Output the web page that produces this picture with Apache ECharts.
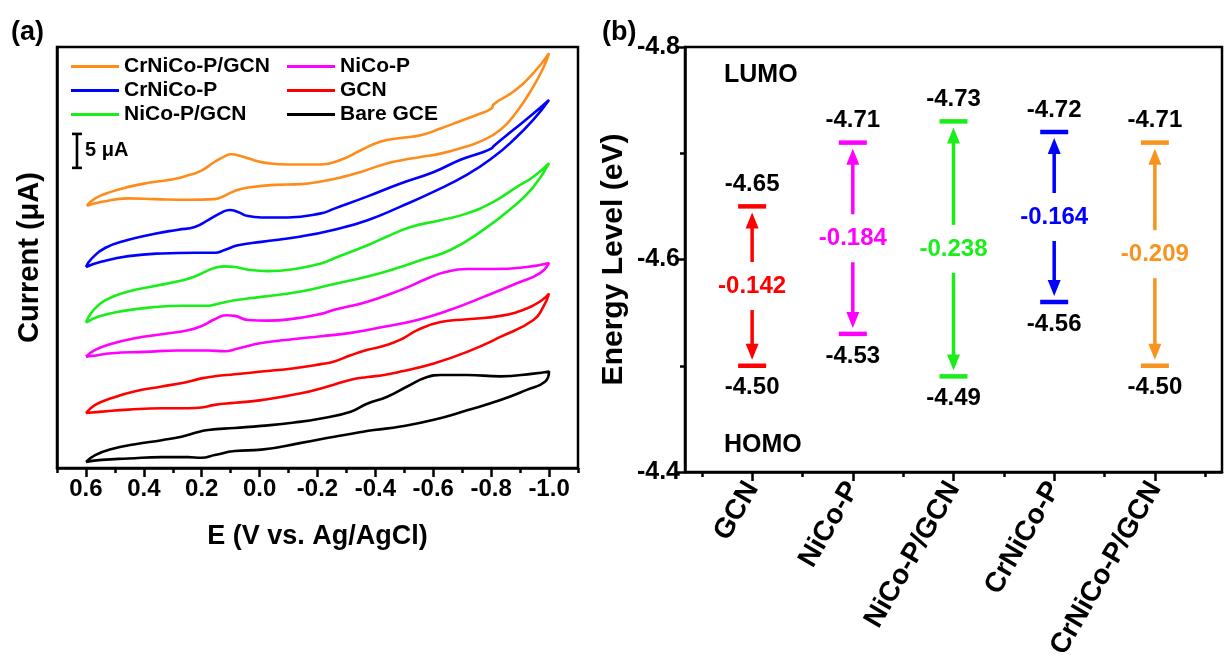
<!DOCTYPE html>
<html>
<head>
<meta charset="utf-8">
<script src="https://cdn.jsdelivr.net/npm/echarts@6/dist/echarts.min.js"></script>
<style>
  html, body { margin: 0; padding: 0; background: #fff; }
  #chart { width: 1225px; height: 669px; }
</style>
</head>
<body>
<div id="chart"></div>
<script>
// ---------- (a) cyclic voltammograms: [E (V vs. Ag/AgCl), I (µA, stacked)] ----------
const cvCrNiCoPGCN = [
  [0.597,38.6],[0.568,39.7],[0.511,40.7],[0.453,41.4],[0.384,42.0],[0.304,42.5],[0.247,43.1],[0.201,43.8],
  [0.155,45.1],[0.121,45.9],[0.098,46.2],[0.063,45.9],[0.017,45.3],[-0.029,44.9],[-0.098,44.7],[-0.212,44.7],
  [-0.281,45.4],[-0.350,46.8],[-0.419,48.1],[-0.487,48.6],[-0.556,49.0],[-0.625,50.0],[-0.694,51.1],[-0.763,52.2],
  [-0.803,53.0],[-0.807,53.5],[-0.876,55.4],[-0.945,58.1],[-1.0,61.1],
  [-0.98,58.9],[-0.946,56.2],[-0.889,52.5],[-0.832,49.8],[-0.763,48.1],[-0.694,47.1],[-0.625,46.3],[-0.556,45.8],
  [-0.487,45.3],[-0.419,44.6],[-0.350,43.6],[-0.281,42.8],[-0.212,42.2],[-0.143,41.8],[-0.051,41.7],[0.040,41.3],
  [0.086,40.8],[0.121,40.1],[0.155,39.6],[0.247,39.5],[0.362,39.6],[0.453,39.7],[0.545,39.2],[0.597,38.6]
];
const cvCrNiCoP = [
  [0.6,29.6],[0.579,30.9],[0.534,32.4],[0.453,33.6],[0.362,34.5],[0.281,35.1],[0.224,35.5],[0.178,36.5],
  [0.132,37.6],[0.103,38.0],[0.075,37.7],[0.040,37.1],[-0.006,36.9],[-0.098,36.9],[-0.212,37.5],[-0.258,38.2],
  [-0.373,40.0],[-0.487,41.9],[-0.602,43.6],[-0.694,45.4],[-0.763,46.4],[-0.803,47.1],[-0.808,47.4],[-0.877,49.8],
  [-0.946,52.2],[-1.0,54.2],
  [-0.946,51.3],[-0.877,48.3],[-0.808,45.8],[-0.717,43.2],[-0.602,40.7],[-0.487,38.5],[-0.373,36.5],[-0.258,35.1],
  [-0.143,34.1],[-0.006,33.3],[0.075,32.8],[0.121,32.1],[0.155,31.7],[0.224,31.7],[0.338,31.6],[0.453,31.2],
  [0.545,30.4],[0.6,29.6]
];
const cvNiCoPGCN = [
  [0.6,21.4],[0.579,23.0],[0.534,24.7],[0.453,26.0],[0.362,26.8],[0.270,27.6],[0.224,28.2],[0.178,29.1],
  [0.143,29.6],[0.121,29.7],[0.086,29.6],[0.040,29.2],[-0.029,29.0],[-0.120,29.3],[-0.212,30.1],[-0.258,30.9],
  [-0.373,32.8],[-0.441,34.1],[-0.522,35.5],[-0.625,36.5],[-0.717,37.5],[-0.808,39.2],[-0.889,41.4],[-0.946,42.9],
  [-1.0,44.9],
  [-0.946,41.4],[-0.877,38.5],[-0.774,35.1],[-0.659,32.1],[-0.556,30.6],[-0.487,29.6],[-0.373,28.2],[-0.258,27.1],
  [-0.143,26.0],[-0.006,25.2],[0.086,24.7],[0.143,24.2],[0.178,23.9],[0.270,23.9],[0.362,23.7],[0.476,23.1],
  [0.556,22.3],[0.6,21.4]
];
const cvNiCoP = [
  [0.6,16.4],[0.568,17.4],[0.511,18.3],[0.430,19.1],[0.338,19.7],[0.247,20.3],[0.201,20.9],[0.155,21.9],
  [0.115,22.5],[0.086,22.4],[0.040,21.8],[-0.029,21.7],[-0.120,22.0],[-0.212,22.7],[-0.258,23.3],[-0.373,24.5],
  [-0.487,26.2],[-0.579,27.9],[-0.636,28.8],[-0.717,29.3],[-0.808,29.3],[-0.923,29.6],[-1.0,30.2],
  [-0.969,28.7],[-0.889,27.2],[-0.774,25.2],[-0.659,23.3],[-0.545,21.8],[-0.430,20.8],[-0.315,19.9],[-0.212,19.4],
  [-0.120,19.0],[-0.006,18.4],[0.075,17.6],[0.121,17.2],[0.178,17.3],[0.281,17.3],[0.396,17.1],[0.511,16.9],
  [0.579,16.5],[0.6,16.4]
];
const cvGCN = [
  [0.6,8.1],[0.568,9.3],[0.511,10.3],[0.430,11.3],[0.338,12.0],[0.258,12.6],[0.201,13.2],[0.155,13.5],
  [0.086,13.8],[-0.006,14.2],[-0.120,14.7],[-0.212,15.3],[-0.258,15.7],[-0.315,16.6],[-0.373,17.4],[-0.430,18.0],
  [-0.487,18.9],[-0.545,20.3],[-0.625,21.5],[-0.717,21.9],[-0.832,22.4],[-0.923,23.5],[-0.975,24.7],[-1.0,25.7],
  [-0.981,23.8],[-0.946,21.8],[-0.832,19.3],[-0.717,17.1],[-0.602,15.4],[-0.487,14.2],[-0.430,13.7],[-0.373,13.4],
  [-0.315,13.0],[-0.235,12.0],[-0.143,11.0],[-0.006,10.0],[0.086,9.6],[0.155,9.3],[0.201,8.9],[0.247,8.8],
  [0.338,8.8],[0.453,8.6],[0.545,8.3],[0.6,8.1]
];
const cvBareGCE = [
  [0.6,0.9],[0.568,1.9],[0.511,2.8],[0.430,3.5],[0.338,4.1],[0.270,4.6],[0.212,5.3],[0.178,5.6],
  [0.086,5.9],[-0.006,6.2],[-0.120,6.7],[-0.212,7.3],[-0.315,8.3],[-0.373,9.5],[-0.441,10.5],[-0.510,12.0],
  [-0.579,13.4],[-0.625,13.7],[-0.717,13.7],[-0.832,13.5],[-0.946,13.9],[-1.0,14.2],
  [-0.986,12.7],[-0.923,11.5],[-0.832,10.0],[-0.717,8.5],[-0.602,7.1],[-0.487,6.1],[-0.395,5.6],[-0.350,5.3],
  [-0.258,4.6],[-0.143,3.7],[-0.006,2.7],[0.086,2.5],[0.155,1.9],[0.201,1.5],[0.247,1.6],[0.338,1.6],
  [0.453,1.4],[0.545,1.2],[0.6,0.9]
];
const potentialTicks = [0.6, 0.4, 0.2, 0.0, -0.2, -0.4, -0.6, -0.8, -1.0];
const potentialMinorTicks = [0.7, 0.5, 0.3, 0.1, -0.1, -0.3, -0.5, -0.7, -0.9, -1.1];
const scaleBarMicroA = 5;

// ---------- (b) band-edge energies (eV) ----------
const materials = ['GCN', 'NiCo-P', 'NiCo-P/GCN', 'CrNiCo-P', 'CrNiCo-P/GCN'];
const lumoLevels = [-4.65, -4.71, -4.73, -4.72, -4.71];
const homoLevels = [-4.50, -4.53, -4.49, -4.56, -4.50];
const gapValues = [-0.142, -0.184, -0.238, -0.164, -0.209];
const energyTicks = [-4.8, -4.6, -4.4];

const FONT = 'Liberation Sans, Arial, Helvetica, sans-serif';
const C = {
  orange: '#ff8c1a', blue: '#0000ff', green: '#1aee1a',
  magenta: '#ff00ff', red: '#ff0000', black: '#000000', levelOrange: '#f7931e'
};
const levelColors = [C.red, C.magenta, C.green, C.blue, C.levelOrange];

const cvSeries = [
  { name: 'CrNiCo-P/GCN', data: cvCrNiCoPGCN, color: C.orange },
  { name: 'CrNiCo-P', data: cvCrNiCoP, color: C.blue },
  { name: 'NiCo-P/GCN', data: cvNiCoPGCN, color: C.green },
  { name: 'NiCo-P', data: cvNiCoP, color: C.magenta },
  { name: 'GCN', data: cvGCN, color: C.red },
  { name: 'Bare GCE', data: cvBareGCE, color: C.black }
].map(s => ({
  name: s.name, type: 'line', xAxisIndex: 0, yAxisIndex: 0,
  data: s.data, showSymbol: false, symbol: 'none', smooth: 0.5,
  color: s.color, lineStyle: { color: s.color, width: 2.6 },
  silent: true, animation: false, z: 3
}));

const boxLine = { show: true, onZero: false, lineStyle: { color: '#000', width: 2.5 } };
const bold = (size, color) => ({ fontFamily: FONT, fontWeight: 'bold', fontSize: size, color: color || '#000' });

// scale bar anchored in data space near the upper-left of panel (a)
const SCALE_E = 0.631, SCALE_BASE = 44.2;

const option = {
  animation: false,
  backgroundColor: '#fff',
  textStyle: { fontFamily: FONT },
  title: [
    { text: '(a)', left: 6, top: 14, textStyle: bold(27) },
    { text: '(b)', left: 597, top: 14, textStyle: bold(27) },
    { text: 'LUMO', left: 719, top: 58, textStyle: bold(25) },
    { text: 'HOMO', left: 719, top: 428, textStyle: bold(25) }
  ],
  legend: [
    {
      data: ['CrNiCo-P/GCN', 'CrNiCo-P', 'NiCo-P/GCN'], orient: 'vertical',
      left: 66, top: 51, icon: 'rect', itemWidth: 48, itemHeight: 3, itemGap: 3,
      selectedMode: false, textStyle: bold(21)
    },
    {
      data: ['NiCo-P', 'GCN', 'Bare GCE'], orient: 'vertical',
      left: 282, top: 51, icon: 'rect', itemWidth: 48, itemHeight: 3, itemGap: 3,
      selectedMode: false, textStyle: bold(21)
    }
  ],
  grid: [
    { left: 57, right: 647, top: 47, bottom: 201, show: true, borderColor: '#000', borderWidth: 2.5, containLabel: false },
    { left: 685, right: 3, top: 47, bottom: 197, show: true, borderColor: '#000', borderWidth: 2.5, containLabel: false }
  ],
  xAxis: [
    {
      gridIndex: 0, type: 'value', min: -1.1, max: 0.7, inverse: true, position: 'bottom',
      axisLine: boxLine, splitLine: { show: false },
      axisTick: { show: true, customValues: potentialTicks, length: 9, lineStyle: { width: 2.5, color: '#000' } },
      axisLabel: { show: true, customValues: potentialTicks, formatter: v => v.toFixed(1), margin: 9, ...bold(24) },
      name: 'E (V vs. Ag/AgCl)', nameLocation: 'middle', nameGap: 55, nameTextStyle: bold(27)
    },
    {
      gridIndex: 0, type: 'value', min: -1.1, max: 0.7, inverse: true, position: 'bottom', offset: 0,
      axisLine: { show: false }, splitLine: { show: false }, axisLabel: { show: false },
      axisTick: { show: true, customValues: potentialMinorTicks, length: 5, lineStyle: { width: 2.5, color: '#000' } }
    },
    {
      gridIndex: 1, type: 'value', min: 1 / 3, max: 17 / 3, position: 'bottom',
      axisLine: boxLine, splitLine: { show: false },
      axisTick: { show: true, customValues: [1, 2, 3, 4, 5], length: 9, lineStyle: { width: 2.5, color: '#000' } },
      axisLabel: {
        show: true, customValues: [1, 2, 3, 4, 5], rotate: 60, margin: 12,
        formatter: v => materials[Math.round(v) - 1], ...bold(28)
      }
    },
    {
      gridIndex: 1, type: 'value', min: 1 / 3, max: 17 / 3, position: 'bottom', offset: 0,
      axisLine: { show: false }, splitLine: { show: false }, axisLabel: { show: false },
      axisTick: { show: true, customValues: [0.5, 1.5, 2.5, 3.5, 4.5, 5.5], length: 5, lineStyle: { width: 2.5, color: '#000' } }
    }
  ],
  yAxis: [
    {
      gridIndex: 0, type: 'value', min: 0, max: 62,
      axisLine: boxLine, axisTick: { show: false }, axisLabel: { show: false }, splitLine: { show: false },
      name: 'Current (\u03bcA)', nameLocation: 'middle', nameGap: 13, nameRotate: 90, nameTextStyle: bold(29)
    },
    {
      gridIndex: 1, type: 'value', min: -4.8, max: -4.4, interval: 0.2, inverse: true,
      axisLine: boxLine, splitLine: { show: false },
      axisTick: { show: true, length: 9, lineStyle: { width: 2.5, color: '#000' } },
      minorTick: { show: true, splitNumber: 2, length: 5, lineStyle: { width: 2.5, color: '#000' } },
      axisLabel: {
        show: true, customValues: energyTicks, formatter: v => v.toFixed(1), margin: 5,
        showMinLabel: true, showMaxLabel: true, ...bold(25)
      },
      name: 'Energy Level (eV)', nameLocation: 'middle', nameGap: 56, nameRotate: 90, nameTextStyle: bold(30)
    }
  ],
  series: [
    ...cvSeries,
    {
      type: 'custom', xAxisIndex: 0, yAxisIndex: 0, silent: true, clip: false, z: 4,
      data: [[SCALE_E, SCALE_BASE, scaleBarMicroA]],
      renderItem: (params, api) => {
        const p0 = api.coord([api.value(0), api.value(1)]);
        const p1 = api.coord([api.value(0), api.value(1) + api.value(2)]);
        const st = { stroke: '#000', lineWidth: 2.6 };
        return {
          type: 'group', children: [
            { type: 'line', shape: { x1: p0[0], y1: p0[1], x2: p1[0], y2: p1[1] }, style: st },
            { type: 'line', shape: { x1: p0[0] - 5, y1: p0[1], x2: p0[0] + 5, y2: p0[1] }, style: st },
            { type: 'line', shape: { x1: p1[0] - 5, y1: p1[1], x2: p1[0] + 5, y2: p1[1] }, style: st },
            {
              type: 'text', x: p0[0] + 8, y: (p0[1] + p1[1]) / 2,
              style: { text: api.value(2) + ' \u03bcA', fill: '#000', font: 'bold 20px ' + FONT, align: 'left', verticalAlign: 'middle' }
            }
          ]
        };
      }
    },
    {
      type: 'custom', xAxisIndex: 2, yAxisIndex: 1, silent: true, clip: false, z: 4,
      data: materials.map((m, i) => [i + 1, lumoLevels[i], homoLevels[i], gapValues[i]]),
      encode: { x: 0, y: [1, 2] },
      renderItem: (params, api) => {
        const i = params.dataIndex;
        const col = levelColors[i];
        const pL = api.coord([api.value(0), api.value(1)]);
        const pH = api.coord([api.value(0), api.value(2)]);
        const x = pL[0], yL = pL[1], yH = pH[1], mid = (yL + yH) / 2;
        const half = 14, thick = 4.5, tipGap = 6, headL = 16, headW = 6.5, labelGap = 24;
        const shaft = { stroke: col, lineWidth: 3.5 };
        const font = 'bold 24px ' + FONT;
        const kids = [
          { type: 'rect', shape: { x: x - half, y: yL - thick / 2, width: half * 2, height: thick }, style: { fill: col } },
          { type: 'rect', shape: { x: x - half, y: yH - thick / 2, width: half * 2, height: thick }, style: { fill: col } },
          { type: 'text', x: x, y: yL - 22, style: { text: api.value(1).toFixed(2), fill: '#000', font: font, align: 'center', verticalAlign: 'middle' } },
          { type: 'text', x: x, y: yH + 22, style: { text: api.value(2).toFixed(2), fill: '#000', font: font, align: 'center', verticalAlign: 'middle' } },
          { type: 'text', x: x, y: mid, style: { text: api.value(3).toFixed(3), fill: col, font: font, align: 'center', verticalAlign: 'middle' } },
          // arrow towards the LUMO level
          { type: 'line', shape: { x1: x, y1: mid - labelGap, x2: x, y2: yL + tipGap + headL - 1 }, style: shaft },
          { type: 'polygon', shape: { points: [[x, yL + tipGap], [x - headW, yL + tipGap + headL], [x + headW, yL + tipGap + headL]] }, style: { fill: col } },
          // arrow towards the HOMO level
          { type: 'line', shape: { x1: x, y1: mid + labelGap, x2: x, y2: yH - tipGap - headL + 1 }, style: shaft },
          { type: 'polygon', shape: { points: [[x, yH - tipGap], [x - headW, yH - tipGap - headL], [x + headW, yH - tipGap - headL]] }, style: { fill: col } }
        ];
        return { type: 'group', children: kids };
      }
    }
  ]
};

const chart = echarts.init(document.getElementById('chart'), null, { renderer: 'canvas' });
chart.setOption(option);
</script>
</body>
</html>
